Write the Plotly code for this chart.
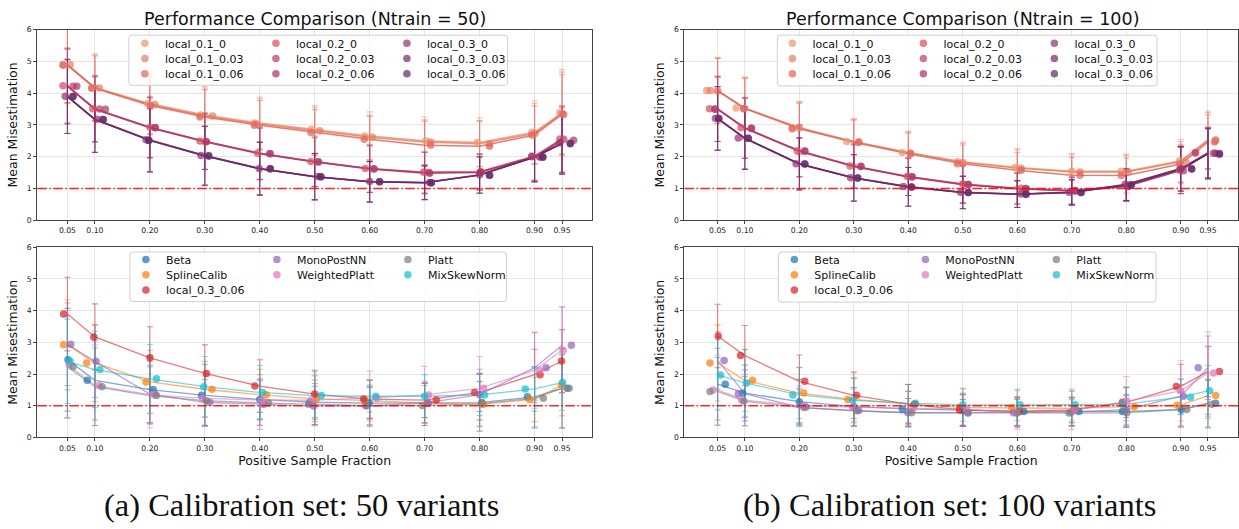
import plotly.graph_objects as go

W, H = 1239, 529

# ---------------- data ----------------
x_frac = [0.05, 0.10, 0.20, 0.30, 0.40, 0.50, 0.60, 0.70, 0.80, 0.90, 0.95]
x_ticktext = ["0.05", "0.10", "0.20", "0.30", "0.40", "0.50", "0.60", "0.70", "0.80", "0.90", "0.95"]
y_ticks = [0, 1, 2, 3, 4, 5, 6]

local_names = ["local_0.1_0", "local_0.1_0.03", "local_0.1_0.06",
               "local_0.2_0", "local_0.2_0.03", "local_0.2_0.06",
               "local_0.3_0", "local_0.3_0.03", "local_0.3_0.06"]
method_names = ["Beta", "SplineCalib", "local_0.3_0.06", "MonoPostNN",
                "WeightedPlatt", "Platt", "MixSkewNorm"]

# --- Ntrain = 50, local variants (mean, std, horizontal jitter of the dots)
n50_local_mean = {
    "local_0.1_0":    [4.90, 4.18, 3.67, 3.31, 3.06, 2.86, 2.65, 2.50, 2.45, 2.77, 3.38],
    "local_0.1_0.03": [4.89, 4.16, 3.64, 3.28, 3.03, 2.82, 2.61, 2.46, 2.41, 2.73, 3.36],
    "local_0.1_0.06": [4.88, 4.15, 3.61, 3.25, 2.99, 2.76, 2.55, 2.36, 2.33, 2.68, 3.33],
    "local_0.2_0":    [4.23, 3.51, 2.93, 2.49, 2.11, 1.85, 1.63, 1.51, 1.53, 2.02, 2.56],
    "local_0.2_0.03": [4.22, 3.50, 2.92, 2.48, 2.10, 1.84, 1.62, 1.50, 1.52, 2.00, 2.55],
    "local_0.2_0.06": [4.22, 3.49, 2.91, 2.47, 2.09, 1.83, 1.61, 1.48, 1.50, 1.99, 2.52],
    "local_0.3_0":    [3.90, 3.18, 2.53, 2.04, 1.63, 1.38, 1.22, 1.19, 1.43, 2.00, 2.44],
    "local_0.3_0.03": [3.89, 3.17, 2.52, 2.03, 1.62, 1.37, 1.21, 1.18, 1.42, 1.99, 2.42],
    "local_0.3_0.06": [3.89, 3.17, 2.51, 2.02, 1.62, 1.37, 1.21, 1.18, 1.42, 1.98, 2.41],
}
n50_local_std = {
    "local_0.1_0":    [1.23, 1.06, 0.95, 0.90, 0.82, 0.76, 0.76, 0.75, 0.77, 0.99, 1.36],
    "local_0.1_0.03": [1.20, 1.04, 0.93, 0.88, 0.80, 0.74, 0.70, 0.70, 0.72, 0.95, 1.30],
    "local_0.1_0.06": [1.18, 1.02, 0.92, 0.86, 0.78, 0.72, 0.72, 0.76, 0.79, 0.92, 1.25],
    "local_0.2_0":    [1.20, 1.05, 0.97, 0.90, 0.83, 0.80, 0.76, 0.66, 0.55, 0.75, 1.05],
    "local_0.2_0.03": [1.18, 1.03, 0.95, 0.88, 0.82, 0.78, 0.74, 0.64, 0.57, 0.77, 1.03],
    "local_0.2_0.06": [1.16, 1.02, 0.94, 0.87, 0.80, 0.76, 0.73, 0.65, 0.56, 0.76, 1.02],
    "local_0.3_0":    [1.17, 1.04, 1.00, 0.93, 0.83, 0.73, 0.64, 0.53, 0.57, 0.78, 0.97],
    "local_0.3_0.03": [1.16, 1.03, 0.99, 0.92, 0.83, 0.73, 0.64, 0.53, 0.57, 0.78, 0.97],
    "local_0.3_0.06": [1.16, 1.04, 1.00, 0.93, 0.83, 0.73, 0.64, 0.53, 0.57, 0.78, 0.97],
}
n50_local_jitter = {
    "local_0.1_0":    [-0.008, -0.005, -0.004, -0.008, -0.010, -0.006, -0.009, 0.002, -0.004, -0.005, -0.004],
    "local_0.1_0.03": [0.005, 0.008, 0.009, 0.014, -0.006, 0.009, 0.005, 0.011, 0.018, 0.001, 0.000],
    "local_0.1_0.06": [-0.008, -0.006, 0.001, -0.009, -0.010, -0.007, -0.010, 0.011, 0.018, -0.005, 0.003],
    "local_0.2_0":    [-0.008, -0.004, 0.000, -0.009, -0.004, -0.007, -0.008, -0.002, 0.002, -0.005, -0.004],
    "local_0.2_0.03": [0.010, 0.008, 0.009, 0.002, 0.018, 0.006, 0.007, 0.008, 0.002, 0.009, 0.003],
    "local_0.2_0.06": [0.017, 0.019, 0.010, 0.003, 0.019, 0.007, 0.008, 0.009, 0.001, 0.010, 0.021],
    "local_0.3_0":    [-0.004, 0.004, -0.007, -0.007, -0.001, 0.006, 0.000, 0.009, 0.000, -0.005, -0.004],
    "local_0.3_0.03": [0.010, 0.015, -0.002, 0.007, 0.019, 0.011, 0.018, 0.012, 0.018, 0.015, 0.015],
    "local_0.3_0.06": [0.010, 0.015, -0.002, 0.007, 0.019, 0.011, 0.018, 0.012, 0.018, 0.015, 0.015],
}

# --- Ntrain = 100, local variants
n100_local_mean = {
    "local_0.1_0":    [4.08, 3.53, 2.91, 2.48, 2.13, 1.84, 1.66, 1.54, 1.54, 1.87, 2.53],
    "local_0.1_0.03": [4.08, 3.52, 2.90, 2.47, 2.12, 1.82, 1.64, 1.52, 1.52, 1.84, 2.51],
    "local_0.1_0.06": [4.07, 3.51, 2.88, 2.45, 2.09, 1.78, 1.57, 1.42, 1.41, 1.77, 2.46],
    "local_0.2_0":    [3.51, 2.91, 2.19, 1.71, 1.38, 1.14, 1.01, 0.94, 1.09, 1.59, 2.13],
    "local_0.2_0.03": [3.50, 2.90, 2.18, 1.70, 1.37, 1.13, 1.00, 0.93, 1.08, 1.58, 2.12],
    "local_0.2_0.06": [3.49, 2.89, 2.17, 1.69, 1.36, 1.12, 0.99, 0.92, 1.06, 1.56, 2.11],
    "local_0.3_0":    [3.21, 2.59, 1.78, 1.34, 1.06, 0.88, 0.83, 0.88, 1.13, 1.63, 2.11],
    "local_0.3_0.03": [3.20, 2.58, 1.77, 1.33, 1.05, 0.87, 0.82, 0.87, 1.12, 1.62, 2.10],
    "local_0.3_0.06": [3.20, 2.58, 1.77, 1.33, 1.05, 0.87, 0.82, 0.87, 1.11, 1.61, 2.08],
}
n100_local_std = {
    "local_0.1_0":    [1.05, 0.98, 0.83, 0.73, 0.68, 0.62, 0.60, 0.57, 0.54, 0.67, 0.90],
    "local_0.1_0.03": [1.03, 0.96, 0.81, 0.71, 0.66, 0.60, 0.58, 0.55, 0.52, 0.64, 0.88],
    "local_0.1_0.06": [1.02, 0.95, 0.80, 0.70, 0.65, 0.59, 0.57, 0.56, 0.55, 0.62, 0.86],
    "local_0.2_0":    [1.03, 0.96, 0.82, 0.70, 0.60, 0.60, 0.50, 0.43, 0.48, 0.75, 0.80],
    "local_0.2_0.03": [1.02, 0.95, 0.81, 0.69, 0.59, 0.59, 0.49, 0.43, 0.47, 0.74, 0.79],
    "local_0.2_0.06": [1.01, 0.94, 0.80, 0.68, 0.58, 0.58, 0.48, 0.42, 0.46, 0.73, 0.78],
    "local_0.3_0":    [1.00, 0.98, 0.82, 0.73, 0.61, 0.51, 0.42, 0.40, 0.50, 0.70, 0.79],
    "local_0.3_0.03": [1.00, 0.98, 0.82, 0.73, 0.61, 0.51, 0.42, 0.40, 0.50, 0.70, 0.79],
    "local_0.3_0.06": [1.00, 0.98, 0.82, 0.73, 0.61, 0.51, 0.42, 0.40, 0.50, 0.70, 0.79],
}
n100_local_jitter = {
    "local_0.1_0":    [-0.020, -0.016, -0.013, -0.013, -0.011, -0.010, -0.004, 0.000, -0.009, -0.002, 0.014],
    "local_0.1_0.03": [-0.013, -0.002, 0.000, 0.009, 0.004, 0.000, 0.007, 0.015, 0.004, 0.009, 0.014],
    "local_0.1_0.06": [0.000, -0.002, -0.013, 0.009, 0.004, -0.010, 0.007, 0.015, -0.009, -0.002, 0.012],
    "local_0.2_0":    [-0.015, -0.007, -0.004, -0.007, -0.002, 0.000, 0.007, 0.006, 0.004, -0.002, -0.023],
    "local_0.2_0.03": [-0.005, 0.012, 0.010, 0.013, 0.007, 0.010, 0.016, 0.006, 0.004, -0.002, -0.023],
    "local_0.2_0.06": [-0.005, 0.012, 0.010, 0.013, 0.007, 0.010, 0.016, 0.006, 0.004, 0.005, 0.010],
    "local_0.3_0":    [-0.004, -0.012, -0.006, -0.006, -0.009, -0.004, 0.007, -0.005, -0.002, 0.001, 0.014],
    "local_0.3_0.03": [0.002, 0.006, 0.010, 0.007, 0.006, 0.010, 0.016, 0.017, 0.009, 0.020, 0.021],
    "local_0.3_0.06": [0.002, 0.006, 0.010, 0.007, 0.006, 0.010, 0.016, 0.017, 0.009, 0.020, 0.021],
}

# --- Ntrain = 50, method comparison
n50_method_mean = {
    "Beta":           [2.45, 1.80, 1.51, 1.33, 1.20, 1.11, 1.08, 1.08, 1.10, 1.28, 1.55],
    "SplineCalib":    [2.92, 2.35, 1.75, 1.52, 1.35, 1.22, 1.16, 1.08, 1.05, 1.20, 1.65],
    "local_0.3_0.06": [3.89, 3.17, 2.51, 2.02, 1.62, 1.37, 1.21, 1.18, 1.42, 1.98, 2.41],
    "MonoPostNN":     [2.94, 2.40, 1.37, 1.11, 1.05, 0.99, 1.00, 1.08, 1.35, 2.20, 2.91],
    "WeightedPlatt":  [2.30, 1.64, 1.35, 1.23, 1.18, 1.18, 1.24, 1.34, 1.55, 2.12, 2.75],
    "Platt":          [2.23, 1.60, 1.32, 1.16, 1.09, 1.05, 1.00, 1.01, 1.06, 1.24, 1.55],
    "MixSkewNorm":    [2.40, 2.14, 1.85, 1.60, 1.42, 1.32, 1.30, 1.30, 1.34, 1.53, 1.73],
}
n50_method_std = {
    "Beta":           [1.62, 1.25, 1.05, 0.98, 0.62, 0.70, 0.50, 0.62, 0.90, 0.95, 1.25],
    "SplineCalib":    [1.42, 1.22, 1.00, 0.88, 0.80, 0.72, 0.65, 0.62, 0.72, 0.70, 0.97],
    "local_0.3_0.06": [1.16, 1.04, 0.98, 0.90, 0.83, 0.75, 0.60, 0.55, 0.60, 0.80, 0.99],
    "MonoPostNN":     [1.30, 1.14, 0.90, 0.72, 0.80, 0.62, 0.60, 0.70, 0.80, 1.10, 1.20],
    "WeightedPlatt":  [1.70, 1.27, 1.05, 0.85, 0.80, 0.78, 0.85, 0.90, 1.00, 1.20, 1.37],
    "Platt":          [1.60, 1.22, 0.90, 0.78, 0.70, 0.65, 0.65, 0.63, 0.70, 0.95, 1.25],
    "MixSkewNorm":    [1.33, 1.20, 1.08, 0.95, 0.85, 0.75, 0.50, 0.68, 0.65, 0.70, 0.87],
}
n50_method_jitter = {
    "Beta":           [0.001, -0.014, 0.006, -0.006, 0.000, -0.009, -0.001, 0.005, 0.004, -0.013, 0.009],
    "SplineCalib":    [-0.007, -0.015, -0.007, 0.013, 0.012, 0.003, -0.009, 0.005, 0.007, -0.009, -0.001],
    "local_0.3_0.06": [-0.007, -0.002, 0.000, 0.003, -0.009, 0.000, -0.011, 0.021, -0.009, 0.010, -0.001],
    "MonoPostNN":     [0.006, 0.002, 0.009, 0.009, 0.007, -0.002, -0.006, 0.007, 0.000, 0.021, 0.017],
    "WeightedPlatt":  [0.003, 0.007, 0.007, -0.004, 0.004, -0.006, 0.013, 0.007, 0.007, 0.009, 0.002],
    "Platt":          [0.010, 0.013, 0.012, 0.003, 0.016, -0.011, -0.007, -0.004, 0.004, 0.016, 0.013],
    "MixSkewNorm":    [0.005, 0.009, 0.012, -0.002, 0.005, 0.012, 0.011, 0.000, 0.009, -0.017, 0.001],
}

# --- Ntrain = 100, method comparison
n100_method_mean = {
    "Beta":           [1.68, 1.40, 1.13, 0.97, 0.90, 0.85, 0.82, 0.82, 0.82, 0.88, 1.08],
    "SplineCalib":    [2.35, 1.80, 1.40, 1.20, 1.05, 0.95, 0.93, 0.92, 0.97, 1.02, 1.32],
    "local_0.3_0.06": [3.20, 2.58, 1.77, 1.33, 1.05, 0.87, 0.82, 0.87, 1.11, 1.61, 2.08],
    "MonoPostNN":     [2.43, 1.38, 0.95, 0.85, 0.78, 0.78, 0.78, 0.80, 0.88, 1.30, 2.20],
    "WeightedPlatt":  [1.50, 1.18, 1.00, 0.95, 0.92, 0.90, 0.78, 0.85, 1.14, 1.47, 2.03],
    "Platt":          [1.45, 1.14, 0.95, 0.84, 0.78, 0.77, 0.77, 0.77, 0.78, 0.88, 1.05],
    "MixSkewNorm":    [1.97, 1.72, 1.34, 1.17, 1.08, 1.03, 1.03, 1.03, 1.05, 1.27, 1.47],
}
n100_method_std = {
    "Beta":           [1.13, 0.88, 0.70, 0.60, 0.55, 0.50, 0.45, 0.45, 0.50, 0.55, 0.75],
    "SplineCalib":    [1.20, 0.98, 0.80, 0.68, 0.62, 0.58, 0.55, 0.55, 0.60, 0.65, 0.72],
    "local_0.3_0.06": [1.00, 0.95, 0.83, 0.73, 0.62, 0.50, 0.45, 0.40, 0.48, 0.70, 0.79],
    "MonoPostNN":     [0.90, 0.75, 0.55, 0.48, 0.45, 0.42, 0.42, 0.42, 0.48, 0.55, 1.00],
    "WeightedPlatt":  [1.10, 0.80, 0.62, 0.58, 0.55, 0.50, 0.52, 0.60, 0.78, 0.95, 1.30],
    "Platt":          [1.07, 0.78, 0.60, 0.50, 0.45, 0.42, 0.45, 0.42, 0.45, 0.55, 0.75],
    "MixSkewNorm":    [1.10, 1.05, 0.87, 0.70, 0.60, 0.52, 0.50, 0.50, 0.52, 0.55, 0.80],
}
n100_method_jitter = {
    "Beta":           [0.014, -0.004, 0.000, 0.000, -0.011, 0.000, 0.012, 0.013, -0.007, 0.001, 0.014],
    "SplineCalib":    [-0.014, 0.014, 0.008, -0.011, 0.013, -0.006, -0.010, 0.007, 0.015, -0.006, 0.014],
    "local_0.3_0.06": [0.001, -0.008, 0.010, 0.005, 0.011, -0.006, 0.004, 0.004, -0.007, -0.008, 0.021],
    "MonoPostNN":     [0.012, -0.012, 0.008, 0.009, -0.001, 0.010, -0.007, 0.000, 0.000, 0.005, -0.018],
    "WeightedPlatt":  [-0.008, -0.006, 0.010, -0.002, 0.009, 0.007, -0.002, 0.004, 0.001, 0.000, 0.010],
    "Platt":          [-0.014, -0.002, 0.012, 0.005, 0.006, 0.009, 0.000, -0.005, 0.001, 0.011, 0.007],
    "MixSkewNorm":    [0.005, 0.003, -0.012, -0.002, 0.013, 0.000, 0.005, 0.006, -0.007, 0.018, 0.003],
}

titles = ["Performance Comparison (Ntrain = 50)", "Performance Comparison (Ntrain = 100)"]
captions = ["(a) Calibration set: 50 variants", "(b) Calibration set: 100 variants"]
x_label = "Positive Sample Fraction"
y_label = "Mean Misestimation"

# ---------------- styles ----------------
flare = {
    "local_0.1_0": (234, 152, 114), "local_0.1_0.03": (231, 126, 101), "local_0.1_0.06": (225, 101, 92),
    "local_0.2_0": (213, 80, 96), "local_0.2_0.03": (193, 67, 102), "local_0.2_0.06": (170, 58, 109),
    "local_0.3_0": (146, 52, 112), "local_0.3_0.03": (122, 46, 111), "local_0.3_0.06": (98, 41, 106),
}
tab = {
    "Beta": (31, 119, 180), "SplineCalib": (255, 127, 14), "local_0.3_0.06": (214, 39, 40),
    "MonoPostNN": (148, 103, 189), "WeightedPlatt": (227, 119, 194), "Platt": (127, 127, 127),
    "MixSkewNorm": (23, 190, 207),
}


def rgba(c, a):
    return "rgba(%d,%d,%d,%.2f)" % (c[0], c[1], c[2], a)


fig = go.Figure()

XL = [37.3 / W, 592.7 / W]
XR = [685.0 / W, 1.0]
YT = [1 - 220.0 / H, 1 - 26.0 / H]
YB = [1 - 441.0 / H, 1 - 247.3 / H]
panels = [  # (xaxis id, yaxis id, xdomain, ydomain, xrange)
    ("x", "y", XL, YT, [-0.0049, 1.0049]),
    ("x2", "y2", XR, YT, [-0.0109, 1.0051]),
    ("x3", "y3", XL, YB, [-0.0049, 1.0049]),
    ("x4", "y4", XR, YB, [-0.0109, 1.0051]),
]

# legend layout: rows of entries (matplotlib fills columns first)
local_rows = [["local_0.1_0", "local_0.2_0", "local_0.3_0"],
              ["local_0.1_0.03", "local_0.2_0.03", "local_0.3_0.03"],
              ["local_0.1_0.06", "local_0.2_0.06", "local_0.3_0.06"]]
method_rows = [["Beta", "MonoPostNN", "Platt"],
               ["SplineCalib", "WeightedPlatt", "MixSkewNorm"],
               ["local_0.3_0.06"]]

panel_data = [
    (local_names, n50_local_mean, n50_local_std, n50_local_jitter, flare, local_rows, True),
    (local_names, n100_local_mean, n100_local_std, n100_local_jitter, flare, local_rows, True),
    (method_names, n50_method_mean, n50_method_std, n50_method_jitter, tab, method_rows, False),
    (method_names, n100_method_mean, n100_method_std, n100_method_jitter, tab, method_rows, False),
]


def legend_id(p, r):
    k = p * 3 + r + 1
    return "legend" if k == 1 else "legend%d" % k


for p, (names, means, stds, jit, cols, rows, is_top) in enumerate(panel_data):
    xa, ya = panels[p][0], panels[p][1]
    lw = 1.5 if is_top else 1.3
    la = 0.85 if is_top else 0.6
    for nm in names:
        c = cols[nm]
        fig.add_trace(go.Scatter(
            x=x_frac, y=means[nm], mode="lines", xaxis=xa, yaxis=ya,
            line=dict(color=rgba(c, la), width=lw), showlegend=False, hoverinfo="skip",
            error_y=dict(type="data", array=stds[nm], visible=True,
                         color=rgba(c, 0.55), thickness=1.1, width=3)))
    for nm in names:
        c = cols[nm]
        r = [i for i, row in enumerate(rows) if nm in row][0]
        xs = [xv + dv for xv, dv in zip(x_frac, jit[nm])]
        fig.add_trace(go.Scatter(
            x=xs, y=means[nm], mode="markers", xaxis=xa, yaxis=ya, name=nm,
            marker=dict(color=rgba(c, 0.72), size=7.5, line=dict(width=0)),
            legend=legend_id(p, r), legendrank=rows[r].index(nm) + 1))

# axes
axis_common = dict(showline=True, linecolor="#444444", linewidth=1, mirror=True,
                   showgrid=True, gridcolor="rgba(200,200,200,0.45)", gridwidth=1,
                   ticks="outside", ticklen=3, tickcolor="#444444", tickwidth=0.8,
                   tickfont=dict(family="DejaVu Sans", size=7.7, color="#222222"),
                   zeroline=False, fixedrange=True)
for p, (xa, ya, xd, yd, xr) in enumerate(panels):
    xkey = "xaxis" if xa == "x" else "xaxis" + xa[1:]
    ykey = "yaxis" if ya == "y" else "yaxis" + ya[1:]
    xt = dict(axis_common, domain=xd, range=xr, anchor=ya, tickmode="array",
              tickvals=x_frac, ticktext=x_ticktext)
    yt = dict(axis_common, domain=yd, range=[0, 6], anchor=xa, tickmode="array",
              tickvals=y_ticks, ticktext=[str(v) for v in y_ticks],
              title=dict(text=y_label, font=dict(family="DejaVu Sans", size=12.5, color="#111111"),
                         standoff=6))
    if p >= 2:
        xt["title"] = dict(text=x_label, font=dict(family="DejaVu Sans", size=12.5, color="#111111"),
                           standoff=3)
    fig.layout[xkey] = xt
    fig.layout[ykey] = yt

# red reference line at y = 1
for xa, ya, *_ in panels:
    fig.add_shape(type="line", xref=xa + " domain", yref=ya,
                  x0=0, x1=1, y0=1, y1=1, layer="above",
                  line=dict(color="rgba(255,0,0,0.85)", width=1.5, dash="9.6px,2.4px,1.6px,2.4px"))


# legend frames (one rounded box per subplot, like matplotlib's fancybox)
def rounded_box(x0, x1, y0, y1, rad=3.0):
    X0, X1 = x0 / W, x1 / W
    Y0, Y1 = 1 - y1 / H, 1 - y0 / H
    rx, ry = rad / W, rad / H
    return ("M %f,%f L %f,%f Q %f,%f %f,%f L %f,%f Q %f,%f %f,%f "
            "L %f,%f Q %f,%f %f,%f L %f,%f Q %f,%f %f,%f Z") % (
        X0 + rx, Y0, X1 - rx, Y0, X1, Y0, X1, Y0 + ry, X1, Y1 - ry, X1, Y1, X1 - rx, Y1,
        X0 + rx, Y1, X0, Y1, X0, Y1 - ry, X0, Y0 + ry, X0, Y0, X0 + rx, Y0)


legend_boxes = [(129, 508, 31.7, 82.7), (778, 1158, 31.7, 83.3),
                (130, 507, 252.3, 302.7), (779, 1157, 252.3, 303.3)]
for (x0, x1, y0, y1) in legend_boxes:
    fig.add_shape(type="path", xref="paper", yref="paper", path=rounded_box(x0, x1, y0, y1),
                  layer="above", fillcolor="rgba(255,255,255,0.8)",
                  line=dict(color="#d0d0d0", width=1))

legend_row_y = [[40, 55.5, 71], [40, 55.5, 71], [260, 275.5, 291], [260, 275.5, 291]]
legend_marker_x = [145, 793, 146, 795]
for p in range(4):
    for r in range(3):
        fig.layout[legend_id(p, r)] = dict(
            orientation="h", x=(legend_marker_x[p] - 20) / W, xanchor="left",
            y=1 - legend_row_y[p][r] / H, yanchor="middle",
            bgcolor="rgba(0,0,0,0)", borderwidth=0,
            entrywidth=86, entrywidthmode="pixels", itemsizing="trace",
            font=dict(family="DejaVu Sans", size=11, color="#111111"),
            tracegroupgap=0, itemclick=False, itemdoubleclick=False)

# titles and captions
for i, t in enumerate(titles):
    xd = XL if i == 0 else [685.0 / W, 1242.0 / W]
    fig.add_annotation(text=t, xref="paper", yref="paper", x=(xd[0] + xd[1]) / 2, y=1 - 15.0 / H,
                       xanchor="center", yanchor="middle", showarrow=False,
                       font=dict(family="DejaVu Sans", size=17.5, color="#111111"))
cap_x = [302, 950]
for i, t in enumerate(captions):
    fig.add_annotation(text=t, xref="paper", yref="paper", x=cap_x[i] / W, y=1 - 510.0 / H,
                       xanchor="center", yanchor="middle", showarrow=False,
                       font=dict(family="Liberation Serif", size=32.5, color="#111111"))

fig.update_layout(width=W, height=H, margin=dict(l=0, r=0, t=0, b=0),
                  paper_bgcolor="white", plot_bgcolor="white", hovermode=False)

fig.write_html("out.html", include_plotlyjs=True, config={"displayModeBar": False},
               post_script="document.body.style.margin='0';document.body.style.overflow='hidden';")
